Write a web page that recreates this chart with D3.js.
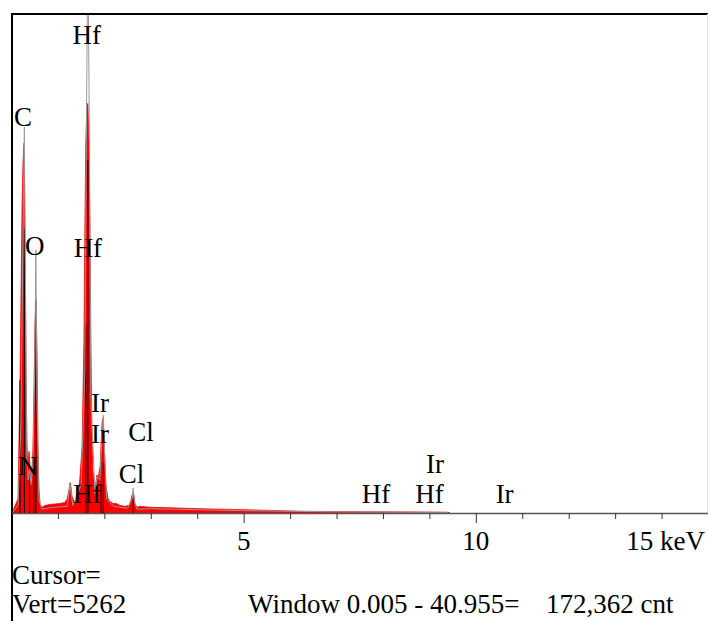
<!DOCTYPE html>
<html><head><meta charset="utf-8">
<script src="https://cdn.jsdelivr.net/npm/d3@7/dist/d3.min.js"></script>
<style>body{margin:0;background:#fff;}svg{display:block;}</style>
</head><body>
<svg id="c" width="708" height="621"></svg>
<script>
// keV positions and counts of the filled (red) spectrum
const energy = [0.01,0.054,0.097,0.14,0.183,0.205,0.226,0.248,0.27,0.29,0.312,0.334,0.355,0.377,0.398,0.42,0.441,0.463,0.484,0.506,0.527,0.549,0.57,0.592,0.614,0.657,0.72,0.83,0.94,1.04,1.15,1.2,1.24,1.26,1.28,1.30,1.35,1.39,1.43,1.47,1.52,1.56,1.58,1.60,1.625,1.645,1.67,1.69,1.71,1.73,1.75,1.80,1.84,1.86,1.91,1.93,1.95,1.97,1.99,2.01,2.03,2.08,2.12,2.19,2.25,2.34,2.44,2.53,2.57,2.59,2.62,2.64,2.66,2.70,2.77,2.98,3.41,4.06,5.0,6.21,7.29,9.0,9.4,9.44];
const counts = [0,50,100,150,1400,2300,3200,3700,3900,3000,1500,700,500,650,500,380,450,700,1300,2000,2250,1700,700,250,100,60,80,90,95,100,110,150,250,320,280,180,120,140,200,350,700,1800,3000,3900,4300,4320,3900,3000,1800,900,450,250,400,350,500,750,950,1000,850,550,300,150,120,100,100,80,70,80,130,180,220,170,100,60,70,60,55,45,35,18,14,10,8,0];
// outline (grey) spectrum
const outlineEnergy = [0.01,0.14,0.2,0.25,0.277,0.3,0.33,0.36,0.392,0.42,0.46,0.5,0.525,0.55,0.59,0.65,0.9,1.2,1.26,1.32,1.5,1.58,1.62,1.645,1.67,1.71,1.8,1.84,1.9,1.95,1.977,2.0,2.05,2.2,2.5,2.6,2.621,2.645,2.7,3.0,4.0,5.0,7.0,9.4];
const outlineCounts = [0,80,900,3000,4070,2500,600,350,480,300,500,1500,2775,1200,150,40,60,70,300,80,300,1500,4500,6000,4500,1200,200,380,350,800,1030,700,150,70,50,150,265,120,40,45,35,25,12,5];
// element marker lines: keV and height in counts
const markerEnergy = [0.183,0.277,0.392,0.48,0.525,1.6,1.645,1.93,1.977,2.621];
const markerHeight = [1400,3000,350,400,2250,2000,3720,300,530,170];
// element labels
const labelText = ["Hf","C","O","Hf","Ir","Ir","Cl","N","Cl","Hf","Hf","Ir","Hf","Ir"];
const labelKeV  = [1.62,0.25,0.50,1.645,1.905,1.905,2.79,0.355,2.585,1.63,7.85,9.12,9.0,10.62];
const labelCnt  = [4950,4085,2720,2700,1065,740,755,400,315,105,105,420,105,105];
// axis ticks
const tickValues = [1,2,3,4,5,6,7,8,9,10,11,12,13,14,15];
const tickLabels = ["5","10","15 keV"];
const tickLabelKeV = [5,10,15];

const svg = d3.select("#c");
const x = d3.scaleLinear().domain([0,15]).range([11.5,708]);
const y = d3.scaleLinear().domain([0,5262]).range([513,14]);

svg.append("clipPath").attr("id","clip").append("rect")
  .attr("x",12).attr("y",14).attr("width",696).attr("height",499);
const g = svg.append("g").attr("clip-path","url(#clip)");

const redPts = energy.map((e,i)=>[e,counts[i]]);
g.append("path").datum(redPts)
  .attr("d", d3.area().x(d=>x(d[0])).y0(y(0)).y1(d=>y(d[1])))
  .attr("fill","#ff0000").attr("stroke","#ff0000").attr("stroke-width",0.8);

g.selectAll("line.mk").data(markerEnergy).join("line")
  .attr("x1",d=>x(d)).attr("x2",d=>x(d))
  .attr("y1",y(0)).attr("y2",(d,i)=>y(markerHeight[i]))
  .attr("stroke","#000").attr("stroke-width",1);

const grayPts = outlineEnergy.map((e,i)=>[e,outlineCounts[i]]);
g.append("path").datum(grayPts)
  .attr("d", d3.line().x(d=>x(d[0])).y(d=>y(d[1])))
  .attr("fill","none").attr("stroke","#9a9a9a").attr("stroke-width",1);

// frame
svg.append("line").attr("x1",11).attr("x2",708).attr("y1",14).attr("y2",14)
  .attr("stroke","#000").attr("stroke-width",2);
svg.append("line").attr("x1",12).attr("x2",12).attr("y1",13).attr("y2",621)
  .attr("stroke","#000").attr("stroke-width",2);
svg.append("line").attr("x1",707.5).attr("x2",707.5).attr("y1",14).attr("y2",513)
  .attr("stroke","#e6e6e6").attr("stroke-width",1);

// x axis
const ax = svg.append("g").attr("transform","translate(0,513)")
  .call(d3.axisBottom(x).tickValues(tickValues).tickFormat("").tickSize(6).tickSizeOuter(0));
ax.select(".domain").attr("stroke","#555").attr("stroke-width",1.5);
ax.selectAll(".tick line").attr("stroke","#333")
  .attr("y2",d=>tickLabelKeV.includes(d)?10:6);

const font = "'Liberation Serif','Times New Roman',serif";
const fs = 27;
svg.selectAll("text.tl").data(tickLabels).join("text")
  .attr("x",(d,i)=> i===2 ? 705 : x(tickLabelKeV[i]))
  .attr("y",550)
  .attr("text-anchor",(d,i)=> i===2 ? "end":"middle")
  .attr("font-family",font).attr("font-size",fs).text(d=>d);

svg.selectAll("text.el").data(labelText).join("text")
  .attr("x",(d,i)=>x(labelKeV[i])).attr("y",(d,i)=>y(labelCnt[i]))
  .attr("text-anchor","middle")
  .attr("font-family",font).attr("font-size",fs).attr("fill","#000").text(d=>d);

svg.append("text").attr("x",12).attr("y",584).attr("font-family",font).attr("font-size",fs).text("Cursor=");
svg.append("text").attr("x",12).attr("y",613).attr("font-family",font).attr("font-size",fs).text("Vert=5262");
svg.append("text").attr("x",248).attr("y",613).attr("font-family",font).attr("font-size",fs).text("Window 0.005 - 40.955=");
svg.append("text").attr("x",546).attr("y",613).attr("font-family",font).attr("font-size",fs).text("172,362 cnt");
</script>
</body></html>
